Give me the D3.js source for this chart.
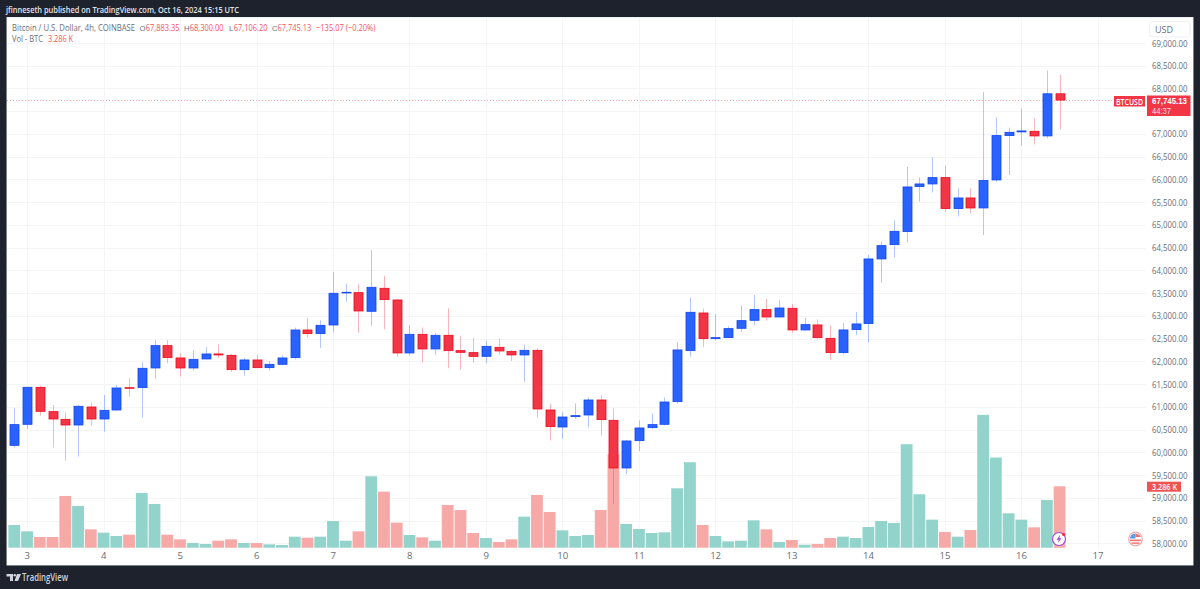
<!DOCTYPE html>
<html>
<head>
<meta charset="utf-8">
<title>BTCUSD 4h</title>
<script src="https://cdn.jsdelivr.net/npm/d3@7"></script>
<style>
html,body{margin:0;padding:0;background:#1e222d;overflow:hidden}
svg{display:block}
text{font-family:"Open Sans","Liberation Sans",sans-serif}
</style>
</head>
<body>
<svg id="chart" width="1200" height="589"></svg>
<script>
// Four-hour BTCUSD bars, Oct 2 20:00 through Oct 16 12:00
const opens = [60154,60616,61430,60895,60726,60601,60997,60733,60931,61422,61422,61855,62346,62075,61855,62053,62163,62133,61818,62031,61862,61935,62082,62690,62610,62800,63504,63511,63101,63607,63350,62185,62595,62273,62573,62236,62192,62111,62309,62221,62141,62243,60931,60557,60785,60821,61151,60704,59656,60257,60543,60616,61115,62236,63064,62500,62522,62727,62903,63138,62976,63167,62691,62801,62507,62192,62698,62830,64252,64567,64853,65843,65901,66040,65359,65593,65373,65989,66964,67045,67059,66957,67883.35];
const highs = [60968,61444,61466,61041,60873,61041,61093,61261,61481,61628,61979,62471,62471,62185,62251,62309,62368,62163,62075,62133,62009,62133,62742,62954,62903,63959,63702,63695,64450,63878,63372,62800,62749,62625,63167,62551,62515,62456,62500,62243,62361,62280,61063,60887,61078,61210,61254,60961,60272,60704,60858,61203,62427,63402,63160,63042,62771,63233,63460,63372,63343,63262,62954,62925,62786,62844,63086,64340,64633,65102,66275,66048,66488,66304,65806,65806,67924,67367,67140,67558,67345,68393,68300];
const lows = [60103,60506,60807,60110,59817,59905,60594,60455,60917,61225,60763,61613,61958,61664,61796,62045,62075,61767,61686,61855,61796,61913,62045,62522,62295,62639,63314,62625,62786,62705,62104,62133,61972,62141,61848,61818,61972,61958,62148,62009,61554,60763,60257,60294,60741,60550,60367,58857,59524,60022,60514,60594,61071,62104,62317,62463,62515,62647,62793,62896,62969,62632,62676,62493,62031,62148,62573,62419,63732,64289,64618,65513,65711,65286,65183,65249,64780,65953,66099,66744,66766,66905,67106.2];
const closes = [60609,61430,60902,60733,60601,61012,60733,60924,61415,61408,61848,62346,62082,61855,62045,62163,62141,61818,62031,61862,61935,62075,62690,62610,62793,63497,63519,63108,63629,63358,62185,62595,62273,62573,62236,62199,62111,62331,62229,62141,62243,60953,60565,60777,60807,61151,60719,59656,60250,60536,60609,61107,62251,63079,62500,62522,62720,62896,63138,62976,63174,62691,62808,62522,62192,62691,62823,64252,64545,64860,65835,65901,66040,65359,65593,65373,65975,66964,67037,67067,66957,67883.35,67745.13];
const volumes = [1214,875,572,572,2768,2233,982,804,625,697,2929,2340,697,447,250,196,375,447,250,250,179,143,589,536,589,1429,375,875,3822,3000,1340,679,554,375,2286,2018,786,518,304,447,1661,2822,1911,929,625,679,2018,5019,1268,1000,786,822,3179,4572,1214,625,339,375,1465,982,304,411,161,196,518,589,518,1107,1429,1322,5537,2858,1500,839,589,947,7108,4822,1840,1500,1089,2554,3286];
const gridPrices = [58000,58500,59000,59500,60000,60500,61000,61500,62000,62500,63000,63500,64000,64500,65000,65500,66000,66500,67000,67500,68000,68500,69000];
// 67,500 has no label: the last-price tag occupies that spot
const priceTicks = [58000,58500,59000,59500,60000,60500,61000,61500,62000,62500,63000,63500,64000,64500,65000,65500,66000,66500,67000,68000,68500,69000];
const dayLabels = [3,4,5,6,7,8,9,10,11,12,13,14,15,16,17];
const dayBarIndex = [1,7,13,19,25,31,37,43,49,55,61,67,73,79,85];

const UP = "#2962ff", UP_EDGE = "#1346f0";
const DOWN = "#f23645", DOWN_EDGE = "#ee0a1e";
const VOL_UP = "#92d3cb", VOL_DOWN = "#f7a9a7";

const svg = d3.select("#chart");
const panel = {left:7, top:17.5, right:1193, bottom:565, plotRight:1146};

svg.append("rect").attr("width",1200).attr("height",589).attr("fill","#1e222d");
svg.append("rect").attr("x",panel.left-0.5).attr("y",panel.top-0.5)
   .attr("width",panel.right-panel.left+1).attr("height",panel.bottom-panel.top+1).attr("fill","#dfe2ea");
svg.append("rect").attr("x",panel.left).attr("y",panel.top)
   .attr("width",panel.right-panel.left).attr("height",panel.bottom-panel.top).attr("fill","#fff");

const x = d3.scaleLinear().domain([0,82]).range([14.3,1059.6]);
const y = d3.scaleLinear().domain([58000,69000]).range([543.3,43]);
const yVol = d3.scaleLinear().domain([0,10000]).range([547.7,360.8]);

// Grid
const grid = svg.append("g").attr("stroke","#f4f5f7").attr("stroke-width",1);
grid.selectAll("line.h").data(gridPrices).join("line").attr("class","h")
    .attr("x1",panel.left).attr("x2",panel.plotRight)
    .attr("y1",d=>Math.round(y(d))+0.5).attr("y2",d=>Math.round(y(d))+0.5);
grid.selectAll("line.v").data(dayBarIndex).join("line").attr("class","v")
    .attr("y1",panel.top).attr("y2",550)
    .attr("x1",d=>Math.round(x(d))+0.5).attr("x2",d=>Math.round(x(d))+0.5);

// Volume columns sit behind the candles
const isUp = i => closes[i] >= opens[i];
svg.append("g").selectAll("rect").data(volumes).join("rect")
   .attr("x",(d,i)=>x(i)-5.9).attr("width",11.8)
   .attr("y",d=>yVol(d)).attr("height",d=>yVol(0)-yVol(d))
   .attr("fill",(d,i)=>isUp(i)?VOL_UP:VOL_DOWN);

// Last price line
svg.append("line").attr("x1",panel.left).attr("x2",1114)
   .attr("y1",Math.round(y(67745.13))+0.5).attr("y2",Math.round(y(67745.13))+0.5)
   .attr("stroke","#f23645").attr("stroke-opacity",0.45).attr("stroke-dasharray","1 2");

// Candles
const candles = svg.append("g").selectAll("g").data(opens).join("g");
candles.append("line")
   .attr("x1",(d,i)=>Math.round(x(i))+0.5).attr("x2",(d,i)=>Math.round(x(i))+0.5)
   .attr("y1",(d,i)=>y(highs[i])).attr("y2",(d,i)=>y(lows[i]))
   .attr("stroke",(d,i)=>isUp(i)?UP:DOWN).attr("stroke-opacity",0.36).attr("stroke-width",1);
candles.append("rect")
   .attr("x",(d,i)=>Math.round(x(i))-4).attr("width",9)
   .attr("y",(d,i)=>y(Math.max(opens[i],closes[i])))
   .attr("height",(d,i)=>Math.max(0.6,Math.abs(y(opens[i])-y(closes[i]))))
   .attr("fill",(d,i)=>isUp(i)?UP:DOWN)
   .attr("stroke",(d,i)=>isUp(i)?UP_EDGE:DOWN_EDGE).attr("stroke-width",0.8);

// Axes
const priceAxis = d3.axisRight(y).tickValues(priceTicks).tickSize(0).tickPadding(0)
    .tickFormat(d3.format(",.2f"));
const gp = svg.append("g").attr("transform","translate(1152,0)").call(priceAxis);
gp.select(".domain").remove();
gp.selectAll("text").attr("font-size",9.4).attr("fill","#6a6d78")
  .attr("textLength",35.5).attr("lengthAdjust","spacingAndGlyphs");

const dayScale = d3.scalePoint().domain(dayLabels).range([x(1)-0.3,x(85)-0.3]);
const dayAxis = d3.axisBottom(dayScale).tickSize(0).tickPadding(0);
const gd = svg.append("g").attr("transform","translate(0,552)").call(dayAxis);
gd.select(".domain").remove();
gd.selectAll("text").attr("font-size",9.6).attr("fill","#6a6d78");

// Header and legend rows
svg.append("text").attr("x",6).attr("y",13).attr("font-size",9.2).attr("font-weight",600)
   .attr("fill","#e0e3eb").attr("textLength",233).attr("lengthAdjust","spacingAndGlyphs")
   .text("jfinneseth published on TradingView.com, Oct 16, 2024 15:15 UTC");

const GREY = "#6a6d78", RED = "#f7525f";
const legendText = [
  [12,"Bitcoin / U.S. Dollar, 4h, COINBASE",GREY,123],
  [145.8,"67,883.35",RED,33.6],
  [189.8,"68,300.00",RED,33.6],
  [233.8,"67,106.20",RED,33.6],
  [277.6,"67,745.13",RED,33.6],
  [316,"−135.07 (−0.20%)",RED,59.5]
];
svg.append("g").selectAll("text").data(legendText).join("text")
   .attr("x",d=>d[0]).attr("y",30.5).attr("font-size",9.4)
   .attr("fill",d=>d[2]).attr("textLength",d=>d[3]).attr("lengthAdjust","spacingAndGlyphs").text(d=>d[1]);
// Single-letter field names are set a little smaller so they clear their values
const legendLetters = [[139.6,"O"],[184,"H"],[229,"L"],[272,"C"]];
svg.append("g").selectAll("text").data(legendLetters).join("text")
   .style("font-family","Liberation Sans")
   .attr("x",d=>d[0]).attr("y",30.5).attr("font-size",7.6).attr("fill",GREY).text(d=>d[1]);
svg.append("text").attr("x",12).attr("y",41.5).attr("font-size",9.4).attr("fill",GREY)
   .attr("textLength",31).attr("lengthAdjust","spacingAndGlyphs").text("Vol - BTC");
svg.append("text").attr("x",48).attr("y",41.5).attr("font-size",9.4).attr("fill",RED)
   .attr("textLength",25).attr("lengthAdjust","spacingAndGlyphs").text("3.286 K");

// Currency button
svg.append("rect").attr("x",1149.5).attr("y",21.5).attr("width",40.5).attr("height",15.5).attr("rx",3)
   .attr("fill","#fff").attr("stroke","#eef0f3");
svg.append("text").attr("x",1155).attr("y",32.5).attr("font-size",9).attr("fill",GREY).text("USD");

// Last value tags
svg.append("rect").attr("x",1114).attr("y",96).attr("width",31).attr("height",10.5).attr("fill","#f23645");
svg.append("text").attr("x",1116).attr("y",104.5).attr("font-size",8.6).attr("font-weight",600)
   .attr("fill","#fff").attr("textLength",27).attr("lengthAdjust","spacingAndGlyphs").text("BTCUSD");
svg.append("rect").attr("x",1147).attr("y",95.5).attr("width",43.5).attr("height",20.5).attr("fill","#f23645");
svg.append("text").attr("x",1152).attr("y",103.8).style("font-family","Liberation Sans").attr("font-size",8.6).attr("font-weight",700)
   .attr("fill","#fff").attr("textLength",35).attr("lengthAdjust","spacingAndGlyphs").text("67,745.13");
svg.append("text").attr("x",1152).attr("y",113.8).style("font-family","Liberation Sans").attr("font-size",8.6).attr("fill","#ffdfe2")
   .attr("textLength",19).attr("lengthAdjust","spacingAndGlyphs").text("44:37");
svg.append("rect").attr("x",1147).attr("y",481.7).attr("width",34).attr("height",10).attr("fill","#ef5350");
svg.append("text").attr("x",1152).attr("y",490).attr("font-size",8.8).attr("font-weight",600)
   .attr("fill","#fff").attr("textLength",25).attr("lengthAdjust","spacingAndGlyphs").text("3.286 K");

// Event markers along the time axis
const bolt = svg.append("g").attr("transform","translate(1059,539)");
bolt.append("circle").attr("r",6.5).attr("fill","#fff").attr("stroke","#a04fd0").attr("stroke-width",1.2);
bolt.append("path").attr("d","M1,-4 L-2.5,0.8 L-0.4,0.8 L-1,4 L2.5,-0.8 L0.4,-0.8 Z").attr("fill","#a04fd0");
bolt.append("circle").attr("cx",4.6).attr("cy",-4.6).attr("r",1.6).attr("fill","#f23645");

const flag = svg.append("g").attr("transform","translate(1135.5,539)");
flag.append("circle").attr("r",6.8).attr("fill","#fff").attr("stroke","#f7a9a7").attr("stroke-width",1.2);
flag.append("path").attr("d","M-5.6,-0.5 A5.6,5.6 0 0 1 0,-5.6 L0,-0.5 Z").attr("fill","#5b9be8");
flag.append("path").attr("d","M0,-5.4 L4,-4 L5.4,-2 L0,-2 Z").attr("fill","#f26d6d");
flag.append("rect").attr("x",-5.4).attr("y",0.6).attr("width",10.8).attr("height",1.5).attr("fill","#f26d6d");
flag.append("rect").attr("x",-4).attr("y",3.4).attr("width",8).attr("height",1.4).attr("fill","#f26d6d");

// Footer logo
svg.append("path").attr("d","M6.5,574 H13 V581 H10 V576.5 H6.5 Z M17,574 H21 L18,581 H14.5 Z").attr("fill","#d1d4dc");
svg.append("circle").attr("cx",14.8).attr("cy",575.3).attr("r",1.3).attr("fill","#d1d4dc");
svg.append("text").attr("x",22).attr("y",581).attr("font-size",10.2).attr("font-weight",600).attr("fill","#d1d4dc")
   .attr("textLength",46).attr("lengthAdjust","spacingAndGlyphs").text("TradingView");
</script>
</body>
</html>
